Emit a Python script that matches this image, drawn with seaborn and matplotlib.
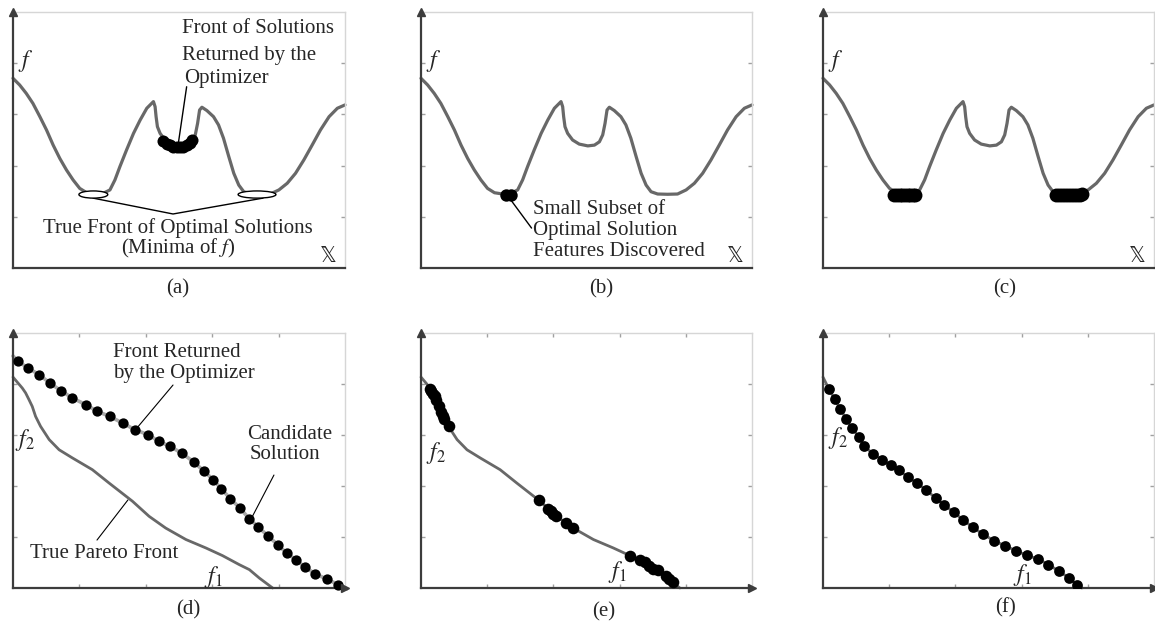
import matplotlib
matplotlib.use("Agg")
import matplotlib.pyplot as plt
from matplotlib.patches import Ellipse
import seaborn as sns

sns.set_style("white")
plt.rcParams['font.family'] = ['Liberation Serif', 'DejaVu Serif', 'DejaVu Sans']
plt.rcParams['mathtext.fontset'] = 'stix'
plt.rcParams['lines.solid_joinstyle'] = 'round'

# ---------------- data (axes 0..100) ----------------
# single-objective landscape f(x) used in panels (a)-(c)
land_x = [0, 2.0, 4.0, 6.0, 8.1, 10.1, 12.1, 14.1, 16.1, 18.1, 20.1, 22.2, 24.7,
          27.2, 29.2, 30.7, 32.2, 34.2, 36.3, 38.3, 40.3, 42.3, 42.8, 43.1, 43.5,
          44.3, 45.8, 47.8, 50.4, 52.4, 53.9, 54.9, 55.6, 56.2, 56.9, 58.4, 60.4,
          61.9, 63.4, 65.0, 66.5, 68.0, 69.5, 71.5, 74.5, 77.5, 80.1, 82.6, 85.1,
          87.6, 90.1, 92.6, 95.2, 97.7, 100]
land_y = [74.1, 71.5, 68.2, 64.3, 59.1, 53.9, 48.0, 42.8, 38.3, 34.4, 31.1, 29.4, 28.9,
          29.2, 30.5, 34.4, 39.6, 46.1, 52.6, 57.8, 62.4, 65.0, 63.0, 59.1, 55.2,
          52.6, 50.0, 48.4, 47.7, 48.0, 49.3, 52.0, 56.5, 61.7, 62.8, 61.5, 59.1,
          55.9, 50.7, 43.5, 37.0, 32.4, 29.8, 28.9, 28.8, 28.9, 30.5, 33.1, 37.0,
          42.2, 48.0, 53.9, 59.1, 62.4, 63.7]

# (a) solutions returned: cluster in the local (non-optimal) valley
a_sol_x = [45.3, 46.3, 47.3, 48.3, 49.3, 50.3, 51.3, 52.3, 53.3, 53.8]
a_sol_y = [49.7, 48.6, 47.9, 47.3, 47.1, 47.1, 47.4, 48.0, 48.9, 50.0]
# (b) small subset of optimal features
b_sol_x = [25.6, 27.2]
b_sol_y = [28.6, 28.6]
# (c) both optimal valleys covered
c_sol_x = [21.6, 22.4, 23.2, 24.0, 24.8, 25.6, 26.4, 27.1, 27.7,
           70.5, 71.4, 72.3, 73.2, 74.1, 75.0, 75.9, 76.8, 77.6, 78.1]
c_sol_y = [28.6, 28.5, 28.5, 28.5, 28.5, 28.5, 28.5, 28.6, 28.7,
           28.7, 28.5, 28.5, 28.5, 28.5, 28.5, 28.5, 28.6, 28.7, 28.8]

# true Pareto front (f1, f2) used in panels (d)-(f)
pf_x = [0, 2.8, 3.8, 4.8, 5.8, 6.8, 8.3, 10.9, 13.9, 17.9, 23.9, 28.9, 36.0,
        41.0, 46.0, 52.1, 58.1, 63.1, 68.1, 71.2, 74.2, 78.2]
pf_y = [82.7, 78.4, 76.5, 73.9, 71.2, 67.3, 63.4, 58.2, 54.2, 51.0, 46.4, 41.2, 34.0,
        28.1, 23.5, 19.0, 15.7, 12.7, 9.2, 7.2, 3.9, 0]

# (d) front returned by the optimizer (dominated)
d_sol_x = [1.5, 4.5, 7.8, 11.1, 14.4, 17.9, 21.9, 25.4, 29.1, 33.0, 36.7, 40.7, 44.0,
           47.2, 50.8, 54.6, 57.5, 60.3, 62.8, 65.5, 68.3, 71.2, 73.9, 76.9, 79.7,
           82.4, 85.2, 87.9, 91.0, 94.5, 98.0]
d_sol_y = [88.9, 86.3, 83.7, 80.4, 77.4, 74.5, 71.9, 69.3, 67.3, 64.7, 62.1, 60.1, 57.5,
           55.6, 52.9, 49.3, 45.8, 42.5, 38.8, 35.0, 31.4, 27.1, 23.9, 20.3, 17.0,
           13.7, 11.1, 8.2, 5.6, 3.5, 1.3]
d_line_x = [0] + d_sol_x + [100.5]
d_line_y = [91.0] + d_sol_y + [-0.4]

# (e) clustered solutions on the true front
e_sol_x = [2.6, 3.1, 3.6, 4.1, 4.6, 5.3, 6.0, 6.6, 7.0, 8.5,
           35.8, 38.3, 39.2, 40.0, 40.8, 43.7, 45.8,
           63.1, 66.3, 67.6, 68.9, 70.2, 71.5, 74.0, 75.0, 76.0]
e_sol_y = [78.0, 77.1, 76.2, 75.2, 73.9, 71.5, 68.9, 67.3, 66.3, 63.4,
           34.4, 31.0, 30.1, 29.2, 28.1, 25.5, 23.5,
           12.7, 11.1, 10.1, 8.8, 7.5, 6.9, 4.6, 3.5, 2.2]

# (f) well-spread solutions on the true front
f_sol_x = [1.8, 3.5, 5.2, 7.0, 8.7, 10.9, 12.4, 15.1, 17.9, 20.4, 22.9, 25.8, 28.3,
           31.0, 34.0, 36.7, 39.5, 42.2, 45.2, 48.2, 51.6, 54.9, 58.3, 61.6, 64.9,
           68.1, 71.4, 74.4, 76.7]
f_sol_y = [78.0, 74.2, 70.2, 66.3, 62.7, 59.2, 55.6, 52.7, 50.3, 48.1, 46.1, 43.4, 41.2,
           38.6, 35.3, 32.5, 29.7, 26.8, 23.9, 21.2, 18.6, 16.6, 14.6, 12.8, 11.4,
           9.2, 6.5, 3.9, 1.3]
f_line_x = [0] + f_sol_x + [78.2]
f_line_y = [82.7] + f_sol_y + [0]

panel_labels = ["(a)", "(b)", "(c)", "(d)", "(e)", "(f)"]

# ---------------- figure ----------------
W, H = 1155, 624
fig = plt.figure(figsize=(W / 100, H / 100), dpi=100)

def add_ax(left, right, top, bottom):
    return fig.add_axes([left / W, 1 - bottom / H, (right - left) / W, (bottom - top) / H])

AX_DARK = '#3c3c3c'
FRAME = '#d6d6d6'
CURVE = '#686868'
FS = 15
XBB = ['DejaVu Sans', 'DejaVu Serif']

def style(ax, xarrow):
    ax.set_xlim(0, 100)
    ax.set_ylim(0, 100)
    for s in ['top', 'right']:
        ax.spines[s].set_color(FRAME)
        ax.spines[s].set_linewidth(1.0)
    for s in ['left', 'bottom']:
        ax.spines[s].set_color(AX_DARK)
        ax.spines[s].set_linewidth(1.6)
    ax.set_yticks([20, 40, 60, 80])
    ax.set_yticklabels([])
    ax.tick_params(axis='y', left=True, right=True, direction='in', length=3,
                   width=1, color='#a0a0a0')
    if xarrow:
        ax.set_xticks([20, 40, 60, 80])
        ax.set_xticklabels([])
        ax.tick_params(axis='x', bottom=True, top=True, direction='in', length=3,
                       width=1, color='#a0a0a0')
        ax.plot(1, 0, marker='>', ms=6, color=AX_DARK, transform=ax.transAxes,
                clip_on=False, zorder=6)
    else:
        ax.set_xticks([])
    ax.plot(0, 1, marker='^', ms=6, color=AX_DARK, transform=ax.transAxes,
            clip_on=False, zorder=6)
    ax.set_xlabel('')
    ax.set_ylabel('')

boxes = [(13, 345), (421, 752), (823, 1154)]
axes_top = [add_ax(l, r, 12, 268) for l, r in boxes]
axes_bot = [add_ax(l, r, 333, 588) for l, r in boxes]

for ax in axes_top:
    style(ax, False)
    sns.lineplot(x=land_x, y=land_y, sort=False, estimator=None, color=CURVE,
                 lw=2.3, ax=ax, clip_on=False)
    ax.text(3.8, 81, '$f$', fontsize=17, ha='center', va='center')
    ax.text(95.0, 4.6, '\U0001D54F', fontsize=15, ha='center', va='center', family=XBB)

for ax in axes_bot:
    style(ax, True)

# (a)
ax = axes_top[0]
sns.scatterplot(x=a_sol_x, y=a_sol_y, s=75, color='black', edgecolor='black',
                linewidth=0, ax=ax, zorder=5, legend=False)
for cx, w in [(24.2, 8.7), (73.5, 11.4)]:
    ax.add_patch(Ellipse((cx, 28.7), w, 2.8, facecolor='white', edgecolor='black',
                         lw=1.0, zorder=4))
ax.plot([24.1, 48.2, 75.3], [27.3, 21.1, 27.3], color='black', lw=1.0, zorder=3)
ax.text(50.9, 93.4, 'Front of Solutions', fontsize=FS, ha='left', va='center')
ax.text(50.9, 83.2, 'Returned by the', fontsize=FS, ha='left', va='center')
ax.text(51.5, 74.2, 'Optimizer', fontsize=FS, ha='left', va='center')
ax.plot([52.3, 49.8], [70.8, 48.7], color='black', lw=1.0, zorder=6)
ax.text(49.7, 15.8, 'True Front of Optimal Solutions', fontsize=FS, ha='center', va='center')
ax.text(49.7, 7.8, '(Minima of $f$)', fontsize=FS, ha='center', va='center')

# (b)
ax = axes_top[1]
sns.scatterplot(x=b_sol_x, y=b_sol_y, s=80, color='black', edgecolor='black',
                linewidth=0, ax=ax, zorder=5, legend=False)
ax.plot([26.9, 33.4], [27.0, 15.6], color='black', lw=1.0)
ax.text(33.8, 23.0, 'Small Subset of', fontsize=FS, ha='left', va='center')
ax.text(33.8, 14.8, 'Optimal Solution', fontsize=FS, ha='left', va='center')
ax.text(33.8, 6.3, 'Features Discovered', fontsize=FS, ha='left', va='center')

# (c)
ax = axes_top[2]
sns.scatterplot(x=c_sol_x, y=c_sol_y, s=100, color='black', edgecolor='black',
                linewidth=0, ax=ax, zorder=5, legend=False)

# (d)
ax = axes_bot[0]
sns.lineplot(x=pf_x, y=pf_y, sort=False, estimator=None, color=CURVE, lw=2.0, ax=ax,
             clip_on=False)
sns.lineplot(x=d_line_x, y=d_line_y, sort=False, estimator=None, color='#a8a8a8',
             lw=2.6, ax=ax, clip_on=False)
sns.scatterplot(x=d_sol_x, y=d_sol_y, s=55, color='black', edgecolor='black',
                linewidth=0, ax=ax, zorder=5, legend=False, clip_on=False)
ax.text(30.1, 92.5, 'Front Returned', fontsize=FS, ha='left', va='center')
ax.text(30.1, 84.3, 'by the Optimizer', fontsize=FS, ha='left', va='center')
ax.plot([48.2, 37.3], [79.6, 62.7], color='black', lw=0.8)
ax.text(70.5, 60.0, 'Candidate', fontsize=FS, ha='left', va='center')
ax.text(71.3, 52.2, 'Solution', fontsize=FS, ha='left', va='center')
ax.plot([78.6, 72.0], [44.3, 27.8], color='black', lw=0.8)
ax.text(5.1, 13.7, 'True Pareto Front', fontsize=FS, ha='left', va='center')
ax.plot([25.3, 34.6], [18.8, 34.5], color='black', lw=0.8)
ax.text(3.6, 58.0, '$f_2$', fontsize=17, ha='center', va='center')
ax.text(60.2, 4.5, '$f_1$', fontsize=17, ha='center', va='center')

# (e)
ax = axes_bot[1]
sns.lineplot(x=pf_x, y=pf_y, sort=False, estimator=None, color=CURVE, lw=2.0, ax=ax,
             clip_on=False)
sns.scatterplot(x=e_sol_x, y=e_sol_y, s=70, color='black', edgecolor='black',
                linewidth=0, ax=ax, zorder=5, legend=False)
ax.text(4.5, 52.9, '$f_2$', fontsize=17, ha='center', va='center')
ax.text(59.3, 6.2, '$f_1$', fontsize=17, ha='center', va='center')

# (f)
ax = axes_bot[2]
sns.lineplot(x=f_line_x, y=f_line_y, sort=False, estimator=None, color=CURVE, lw=2.0,
             ax=ax, clip_on=False)
sns.scatterplot(x=f_sol_x, y=f_sol_y, s=60, color='black', edgecolor='black',
                linewidth=0, ax=ax, zorder=5, legend=False)
ax.text(4.5, 58.8, '$f_2$', fontsize=17, ha='center', va='center')
ax.text(60.3, 5.0, '$f_1$', fontsize=17, ha='center', va='center')

# panel labels
label_pos = [(178, 289), (601, 289), (1005, 289), (188, 610), (604, 612), (1005, 608)]
for lab, (px, py) in zip(panel_labels, label_pos):
    fig.text(px / W, 1 - py / H, lab, fontsize=FS, ha='center', va='center')

fig.savefig('out.png', dpi=100)
